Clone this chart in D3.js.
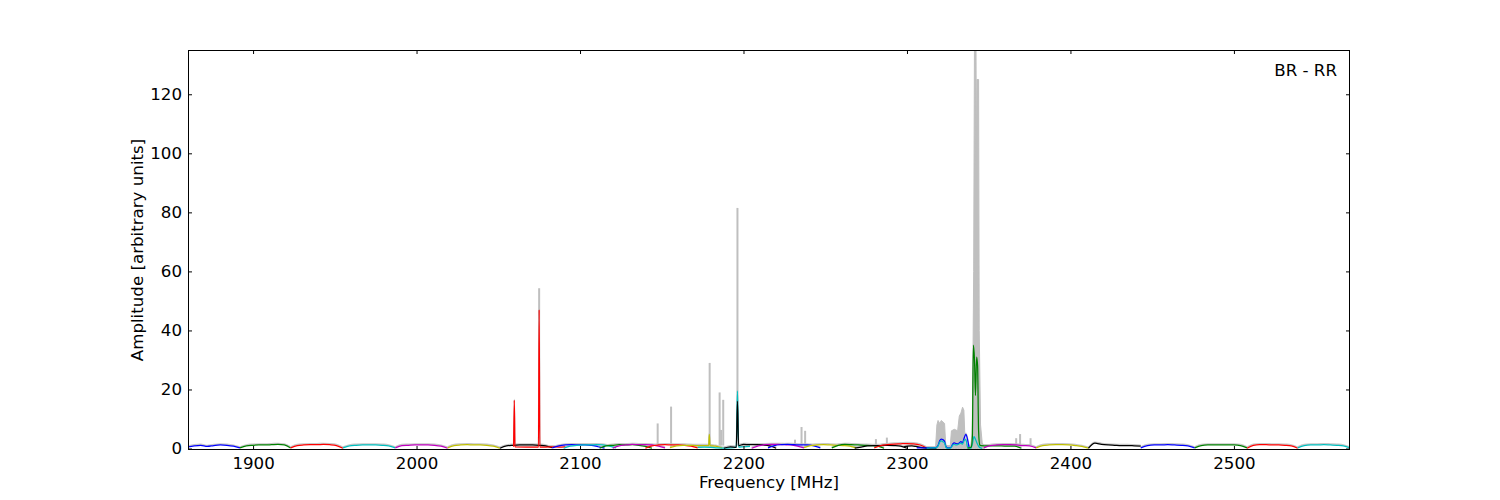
<!DOCTYPE html>
<html>
<head>
<meta charset="utf-8">
<script src="https://cdn.jsdelivr.net/npm/d3@7"></script>
<style>
  body { margin: 0; background: #fff; }
  svg text { font-family: "DejaVu Sans", sans-serif; font-size: 16.67px; fill: #000; }
  .axis path { display: none; }
  .axis line { stroke: #000; stroke-width: 1px; }
  .band { fill: none; stroke-width: 1.25px; stroke-linejoin: round; }
  .ghost { fill: none; stroke: #c8c8c8; stroke-width: 1.5px; }
  .spike { stroke: #bfbfbf; stroke-width: 2px; }
  .cluster { fill: #bfbfbf; stroke: #bfbfbf; stroke-width: 1px; }
</style>
</head>
<body>
<svg id="chart" width="1500" height="500"></svg>
<script>
// ---- data ----
var xTicks = [1900, 2000, 2100, 2200, 2300, 2400, 2500];
var yTicks = [0, 20, 40, 60, 80, 100, 120];

// each sub-band: colour code, start / end frequency [MHz], levels sampled evenly over it
var bandColor = ['b','g','r','c','m','y','k','r','b','c','g','m','r','y','c','k','m',
                 'b','y','g','k','r','k','b','c','g','m','y','k','b','g','r','c'];
var bandStart = [1860, 1892, 1923, 1955, 1987, 2019, 2051, 2059.6, 2083, 2090, 2112, 2120,
                 2140, 2155, 2172, 2188, 2205, 2215, 2237, 2254, 2268, 2280, 2298, 2306,
                 2312, 2337, 2347, 2379, 2411, 2443, 2476, 2508, 2539];
var bandEnd   = [1892, 1923, 1955, 1987, 2019, 2051, 2083, 2091, 2115, 2122, 2144, 2152,
                 2172, 2187, 2204, 2220, 2237, 2247, 2269, 2286, 2300, 2312, 2318, 2338,
                 2346, 2370, 2379, 2411, 2443, 2476, 2508, 2539, 2571];
var bandLevel = [
  [0.5, 0.9, 1.1, 0.7, 1.0, 1.2, 1.1, 0.8, 0.2],
  [0.2, 0.9, 1.1, 1.2, 1.2, 1.3, 1.4, 1.2, 0.2],
  [0.2, 1.0, 1.2, 1.3, 1.3, 1.4, 1.3, 1.0, 0.1],
  [0.2, 0.9, 1.1, 1.2, 1.2, 1.2, 1.1, 0.9, 0.2],
  [0.2, 1.0, 1.1, 1.2, 1.2, 1.2, 1.1, 0.8, 0.1],
  [0.2, 1.0, 1.2, 1.3, 1.2, 1.2, 1.1, 0.8, 0.1],
  [0.1, 0.9, 1.1, 1.2, 1.2, 1.2, 1.1, 0.9, 0.3],
  [0.6, 0.5, 0.5, 0.6, 0.5, 0.5, 0.6, 0.5, 0.6],
  [0.2, 0.9, 1.2, 1.3, 1.2, 1.2, 1.1, 0.6, 0.1],
  [0.1, 0.8, 1.1, 1.2, 1.2, 1.3, 1.2, 0.8, 0.2],
  [0.1, 0.9, 1.1, 1.3, 1.2, 1.3, 1.1, 0.7, 0.1],
  [0.1, 0.9, 1.2, 1.4, 1.3, 1.3, 1.2, 0.8, 0.2],
  [0.1, 0.9, 1.2, 1.3, 1.2, 1.2, 1.1, 0.8, 0.2],
  [0.3, 0.9, 1.1, 1.1, 1.0, 1.0, 1.0, 0.8, 0.2],
  [0.4, 0.5, 0.4, 0.2, 0.1, 0.2, 0.4, 0.6, 0.7],
  [0.1, 0.6, 1.3, 1.4, 1.3, 1.3, 1.2, 0.9, 0.1],
  [0.1, 0.9, 1.3, 1.4, 1.4, 1.3, 1.2, 0.8, 0.2],
  [0.2, 1.0, 1.3, 1.4, 1.3, 1.2, 1.2, 0.9, 0.2],
  [0.3, 1.0, 1.2, 1.3, 1.2, 1.1, 1.0, 0.8, 0.2],
  [0.2, 1.1, 1.4, 1.3, 1.2, 1.1, 1.0, 0.8, 0.1],
  [0.1, 0.5, 0.9, 1.0, 1.0, 1.1, 1.0, 0.8, 0.1],
  [0.2, 1.0, 1.3, 1.5, 1.6, 1.7, 1.6, 1.2, 0.2],
  [0.6, 0.8, 0.9, 0.7, 0.4, 0.2, 0.1, 0.1, 0.1],
  [0.3, 0.2, 0.2, 0.2, 0.2, 0.2, 0.2, 0.2, 0.3, 0.3, 0.3, 0.3, 0.4, 1.0, 2.6, 3.2, 3.0,
   2.4, 0.5, 0.2, 0.2, 0.4, 1.6, 1.9, 1.7, 1.6, 1.9, 2.3, 2.0, 3.6, 4.8, 3.2, 0.3],
  [0.1, 0.1, 0.2, 0.2, 0.2, 0.2, 0.3, 0.8, 2.2, 2.6, 2.3, 1.9, 0.3, 0.1, 0.1, 0.3, 1.2,
   1.4, 1.2, 1.3, 1.6, 1.8, 1.5, 2.8, 3.0, 0.6, 0.1, 0.1, 1.5, 4.0, 3.0, 1.6, 0.6, 0.2, 0.1],
  [0.1, 1.0, 1.0, 0.9, 0.9, 0.9, 0.8, 0.8, 0.1],
  [0.2, 1.0, 1.2, 1.3, 1.3, 1.2, 1.0, 0.9, 0.2],
  [0.2, 1.0, 1.2, 1.3, 1.3, 1.2, 1.0, 0.7, 0.1],
  [0.1, 1.8, 1.4, 1.2, 1.1, 1.0, 1.0, 0.9, 0.8],
  [0.2, 1.0, 1.2, 1.2, 1.3, 1.2, 1.1, 0.9, 0.2],
  [0.2, 1.0, 1.2, 1.2, 1.2, 1.2, 1.2, 1.0, 0.2],
  [0.1, 1.1, 1.3, 1.3, 1.2, 1.2, 1.1, 0.9, 0.1],
  [0.2, 1.0, 1.2, 1.2, 1.3, 1.2, 1.1, 0.9, 0.2]
];

// narrow peaks sitting on a sub-band (band index, frequency, value)
var peakBand  = [7, 7, 7, 7, 7, 7, 13, 13, 13, 14, 14, 14, 15, 15, 15,
                 25, 25, 25, 25, 25, 25, 25, 25, 25];
var peakFreq  = [2059.4, 2059.8, 2060.2, 2074.6, 2075.0, 2075.4, 2178.7, 2179.1, 2179.5,
                 2195.6, 2196.3, 2197.0, 2195.6, 2196.3, 2197.0,
                 2339.3, 2340.0, 2340.6, 2341.3, 2341.9, 2342.6, 2343.2, 2343.8, 2344.5];
var peakValue = [0.6, 16.3, 0.6, 0.5, 47, 0.5, 1.0, 4.8, 1.0,
                 0.5, 19.5, 0.5, 0.4, 16, 1.0,
                 0.5, 4, 35, 30, 18, 31, 28, 6, 1.2];

// grey (reference) trace: isolated spikes
var spikeFreq   = [2075.0, 2147.5, 2155.7, 2179.3, 2185.4, 2186.3, 2187.6, 2196.3,
                   2231.5, 2235.5, 2237.7, 2281.0, 2287.7, 2366.8, 2369.2, 2375.6];
var spikeHeight = [54.3, 8.5, 14.2, 29, 19, 6.3, 16.5, 81.5,
                   3, 7.3, 6, 3.2, 3.7, 3.5, 4.9, 3.5];

// grey trace: dense cluster near 2340 MHz
var clusterFreq  = [2317.5, 2318.3, 2319, 2320, 2321, 2322, 2323, 2323.7, 2326.5, 2327.2,
                    2329, 2331, 2332, 2333, 2334, 2334.8, 2335.6, 2339, 2340, 2340.8,
                    2341.3, 2342.2, 2342.5, 2342.8, 2343.8, 2344.2, 2345, 2346, 2347];
var clusterValue = [0.5, 8, 9.5, 8.5, 9.5, 9, 8.5, 1, 1, 6,
                    6.5, 6, 11, 12, 14, 13, 1.5, 1, 5, 60,
                    140, 140, 95, 125, 125, 40, 8, 2, 0.8];

(function () {
  var svg = d3.select('#chart');
  var mLeft = 188, mRight = 1350, mTop = 50, mBottom = 450;

  var x = d3.scaleLinear().domain([1860.2, 2571]).range([mLeft, mRight]);
  var y = d3.scaleLinear().domain([-0.5, 135]).range([mBottom, mTop]);
  var colour = d3.scaleOrdinal()
    .domain(['b', 'g', 'r', 'c', 'm', 'y', 'k'])
    .range(['#0000ff', '#008000', '#ff0000', '#00bfbf', '#bf00bf', '#bfbf00', '#000000']);

  svg.append('defs').append('clipPath').attr('id', 'clip')
    .append('rect').attr('x', mLeft).attr('y', mTop)
    .attr('width', mRight - mLeft).attr('height', mBottom - mTop);

  var plot = svg.append('g').attr('clip-path', 'url(#clip)');

  function bandPoints(i) {
    var lv = bandLevel[i], f0 = bandStart[i], f1 = bandEnd[i];
    var extra = [];
    peakBand.forEach(function (b, k) {
      if (b === i) extra.push([peakFreq[k], peakValue[k]]);
    });
    var lo = extra.length ? d3.min(extra, function (d) { return d[0]; }) : Infinity;
    var hi = extra.length ? d3.max(extra, function (d) { return d[0]; }) : -Infinity;
    var pts = lv.map(function (v, j) {
      return [f0 + (f1 - f0) * j / (lv.length - 1), v];
    }).filter(function (d) { return d[0] < lo - 0.3 || d[0] > hi + 0.3; });
    return pts.concat(extra).sort(function (a, b) { return a[0] - b[0]; });
  }

  var line = d3.line()
    .curve(d3.curveMonotoneX)
    .x(function (d) { return x(d[0]); })
    .y(function (d) { return y(d[1]); });

  var bands = bandColor.map(function (c, i) { return bandPoints(i); });

  // grey trace under the coloured ones
  plot.selectAll('path.ghost').data(bands).enter().append('path')
    .attr('class', 'ghost')
    .attr('transform', 'translate(0,-1)')
    .attr('d', line);

  plot.selectAll('line.spike').data(spikeFreq).enter().append('line')
    .attr('class', 'spike')
    .attr('x1', function (d) { return x(d); })
    .attr('x2', function (d) { return x(d); })
    .attr('y1', y(1))
    .attr('y2', function (d, i) { return y(spikeHeight[i]); });

  var clusterArea = d3.area()
    .x(function (d) { return x(d[0]); })
    .y0(y(0))
    .y1(function (d) { return y(d[1]); });
  plot.append('path').attr('class', 'cluster')
    .attr('d', clusterArea(clusterFreq.map(function (f, i) { return [f, clusterValue[i]]; })));

  // coloured sub-bands
  plot.selectAll('path.band').data(bands).enter().append('path')
    .attr('class', 'band')
    .attr('stroke', function (d, i) { return colour(bandColor[i]); })
    .attr('d', line);

  // axes (matplotlib classic: ticks inward on all four sides)
  svg.append('g').attr('class', 'axis').attr('transform', 'translate(0,' + mBottom + ')')
    .call(d3.axisBottom(x).tickValues(xTicks).tickSize(-4).tickPadding(7).tickFormat(d3.format('d')));
  svg.append('g').attr('class', 'axis').attr('transform', 'translate(0,' + mTop + ')')
    .call(d3.axisTop(x).tickValues(xTicks).tickSize(-4).tickFormat(''));
  svg.append('g').attr('class', 'axis').attr('transform', 'translate(' + mLeft + ',0)')
    .call(d3.axisLeft(y).tickValues(yTicks).tickSize(-4).tickPadding(6));
  svg.append('g').attr('class', 'axis').attr('transform', 'translate(' + mRight + ',0)')
    .call(d3.axisRight(y).tickValues(yTicks).tickSize(-4).tickFormat(''));

  svg.append('rect')
    .attr('x', mLeft + 0.5).attr('y', mTop + 0.5)
    .attr('width', mRight - mLeft - 1).attr('height', mBottom - mTop - 1)
    .attr('fill', 'none').attr('stroke', '#000').attr('stroke-width', 1);

  svg.append('text')
    .attr('x', (mLeft + mRight) / 2).attr('y', 488)
    .attr('text-anchor', 'middle')
    .text('Frequency [MHz]');

  svg.append('text')
    .attr('transform', 'translate(143,' + (mTop + mBottom) / 2 + ') rotate(-90)')
    .attr('text-anchor', 'middle')
    .text('Amplitude [arbitrary units]');

  svg.append('text')
    .attr('x', 1337).attr('y', 76)
    .attr('text-anchor', 'end')
    .text('BR - RR');
})();
</script>
</body>
</html>
